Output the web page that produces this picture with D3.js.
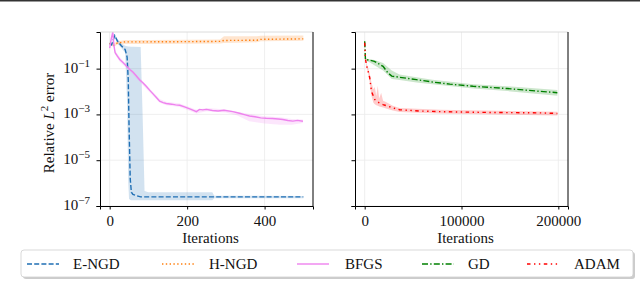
<!DOCTYPE html>
<html>
<head>
<meta charset="utf-8">
<script src="https://cdn.jsdelivr.net/npm/d3@7"></script>
<style>
  html, body { margin: 0; padding: 0; background: #fff; }
  svg { display: block; }
  text { font-family: 'Liberation Serif', 'DejaVu Serif', serif; fill: #111; }
</style>
</head>
<body>
<script>
// ---- data ----

// left panel: E-NGD, H-NGD, BFGS
const engdIter = [0, 5, 13, 20, 30, 40, 45, 48, 50, 53, 56, 60, 70, 80, 500];
const engdMean = [1.26, 1.1, 2.8, 1.6, 1.0, 0.68, 0.32, 0.032, 3.2e-4, 1.6e-6, 4.0e-7, 3.2e-7, 2.8e-7, 2.5e-7, 2.5e-7];
const engdBandIter = [0, 5, 13, 20, 30, 40, 45, 48, 50, 55, 60, 80, 85, 90, 100, 265, 270, 500];
const engdHigh = [1.41, 1.26, 3.16, 2.0, 1.26, 1.0, 0.95, 0.93, 0.93, 0.91, 0.91, 0.87, 1e-3, 4.5e-7, 4.0e-7, 4.0e-7, 2.8e-7, 2.75e-7];
const engdLow = [1.12, 1.0, 2.5, 1.26, 0.79, 0.5, 3.2e-3, 1e-6, 2.0e-7, 1.8e-7, 1.8e-7, 1.8e-7, 1.8e-7, 1.8e-7, 1.8e-7, 1.8e-7, 2.2e-7, 2.2e-7];

const hngdIter = [0, 5, 10, 20, 40, 100, 200, 285, 295, 380, 390, 500];
const hngdMean = [1.26, 1.12, 1.05, 1.32, 1.48, 1.48, 1.51, 1.55, 1.7, 1.74, 1.9, 2.0];
const hngdHigh = [1.41, 1.26, 1.26, 1.58, 1.8, 1.8, 1.82, 1.86, 2.6, 2.6, 2.75, 2.8];
const hngdLow = [1.12, 1.0, 0.89, 1.12, 1.2, 1.2, 1.23, 1.26, 1.32, 1.41, 1.58, 1.66];

const bfgsIter = [0, 4, 8, 11, 14, 20, 26, 35, 45, 52, 60, 68, 77, 85, 95, 103, 112, 120, 129, 138, 146, 160,
  170, 181, 195, 210, 224, 232, 240, 250, 265, 280, 295, 318, 335, 350, 361, 375, 390, 404, 420, 435, 447, 460, 473, 485, 499];
const bfgsMean = [0.79, 2.0, 4.0, 1.0, 0.5, 0.35, 0.25, 0.18, 0.12, 0.091, 0.071, 0.05, 0.033, 0.025, 0.0166, 0.0115,
  0.0079, 0.0056, 0.0038, 0.0033, 0.003, 0.0028, 0.0026, 0.0025, 0.0021, 0.00166, 0.00132, 0.00166, 0.00158, 0.00166,
  0.00148, 0.00141, 0.00151, 0.00132, 0.00112, 0.00095, 0.00085, 0.00079, 0.00071, 0.00068, 0.00066, 0.00063, 0.0006,
  0.00054, 0.00051, 0.00055, 0.0005];
const bfgsBandIter = [0, 8, 14, 26, 52, 77, 103, 129, 146, 181, 224, 250, 300, 330, 360, 400, 440, 470, 499];
const bfgsHigh = [0.89, 4.5, 0.63, 0.32, 0.11, 0.04, 0.014, 0.0047, 0.0036, 0.003, 0.0016, 0.0019, 0.00166, 0.00132,
  0.00105, 0.00083, 0.00076, 0.00063, 0.0006];
const bfgsLow = [0.71, 3.2, 0.4, 0.2, 0.076, 0.027, 0.0093, 0.0032, 0.0025, 0.0021, 0.0011, 0.00138, 0.0012, 0.00089,
  0.0005, 0.0004, 0.00035, 0.00035, 0.00042];

// right panel: GD, ADAM
const gdIter = [0, 800, 5000, 10000, 19000, 24000, 28000, 36000, 53500, 70000, 88000, 112000, 147000, 181000, 199000];
const gdMean = [1.58, 0.25, 0.234, 0.209, 0.126, 0.065, 0.047, 0.042, 0.033, 0.026, 0.021, 0.017, 0.0135, 0.0102, 0.0089];
const gdBandIter = [0, 800, 5000, 10000, 19000, 28000, 36000, 53500, 70000, 112000, 147000, 199000];
const gdHigh = [1.78, 0.28, 0.26, 0.24, 0.178, 0.083, 0.056, 0.042, 0.033, 0.021, 0.017, 0.0117];
const gdLow = [1.41, 0.22, 0.19, 0.141, 0.083, 0.035, 0.032, 0.025, 0.021, 0.0135, 0.0105, 0.0066];

const adamIter = [0, 800, 1700, 3500, 5200, 7000, 10400, 15000, 19000, 29000, 36000, 57000, 78000, 120000, 181000, 199000];
const adamMean = [1.35, 0.28, 0.148, 0.079, 0.04, 0.0102, 0.0045, 0.0032, 0.0027, 0.00195, 0.0016, 0.00141, 0.00132,
  0.00123, 0.00117, 0.0011];
const adamBandIter = [0, 800, 1700, 3500, 5200, 7000, 9000, 10400, 12000, 13500, 15000, 17000, 19000, 22000, 29000,
  36000, 78000, 199000];
const adamHigh = [1.51, 0.32, 0.178, 0.112, 0.063, 0.025, 0.0126, 0.0158, 0.0063, 0.0178, 0.005, 0.0089, 0.004, 0.0035,
  0.0024, 0.0019, 0.00158, 0.00132];
const adamLow = [1.2, 0.25, 0.126, 0.063, 0.025, 0.0063, 0.0032, 0.0028, 0.0025, 0.0024, 0.0022, 0.0021, 0.002, 0.0018,
  0.0015, 0.00126, 0.0011, 0.00089];

const leftTicks = [0, 200, 400];
const rightTicks = [0, 100000, 200000];
const yTicks = [1e-7, 1e-5, 1e-3, 1e-1];
const legendNames = ['E-NGD', 'H-NGD', 'BFGS', 'GD', 'ADAM'];

// ---- styles ----
const serif = "'Liberation Serif', 'DejaVu Serif', serif";
const colors = {
  'E-NGD': '#1f6fb4',
  'H-NGD': '#ff7f0e',
  'BFGS': '#ee82ee',
  'GD': '#008000',
  'ADAM': '#ff0000'
};
const dashes = {
  'E-NGD': '5,2.2',
  'H-NGD': '1.4,2.4',
  'BFGS': null,
  'GD': '6,2.2,1.4,2.2',
  'ADAM': '3.5,3.5,1.4,3.5,1.4,3.5'
};

const width = 640;
const height = 281;
const plotTop = 32;
const plotBottom = 206;

const svg = d3.select('body')
  .append('svg')
  .attr('width', width)
  .attr('height', height)
  .attr('font-family', serif);

svg.append('rect')
  .attr('x', 0).attr('y', 0)
  .attr('width', width).attr('height', 1.5)
  .attr('fill', '#333');

const y = d3.scaleLog()
  .domain([1e-7, Math.pow(10, 0.6)])
  .range([plotBottom, plotTop]);

const xL = d3.scaleLinear().domain([-25, 525]).range([100, 313]);
const xR = d3.scaleLinear().domain([-10000, 210000]).range([355, 568]);

function panel(id, x, ticks, series, showLabels) {
  const [x0, x1] = x.range();
  const g = svg.append('g');

  g.append('clipPath')
    .attr('id', id)
    .append('rect')
    .attr('x', x0).attr('y', plotTop)
    .attr('width', x1 - x0).attr('height', plotBottom - plotTop);

  // grid
  g.selectAll('.vgrid')
    .data(ticks)
    .enter()
    .append('line')
    .attr('x1', (d) => x(d)).attr('x2', (d) => x(d))
    .attr('y1', plotTop).attr('y2', plotBottom)
    .style('stroke', '#ebebeb')
    .style('stroke-width', 0.8);

  g.selectAll('.hgrid')
    .data(yTicks)
    .enter()
    .append('line')
    .attr('x1', x0).attr('x2', x1)
    .attr('y1', (d) => y(d)).attr('y2', (d) => y(d))
    .style('stroke', '#ebebeb')
    .style('stroke-width', 0.8);

  const plot = g.append('g').attr('clip-path', `url(#${id})`);

  series.forEach((s) => {
    const band = d3.zip(s.bandIter, s.low, s.high);
    plot.append('path')
      .datum(band)
      .attr('d', d3.area()
        .x((d) => x(d[0]))
        .y0((d) => y(d[1]))
        .y1((d) => y(d[2])))
      .attr('fill', colors[s.name])
      .attr('fill-opacity', 0.2);
  });

  series.forEach((s) => {
    plot.append('path')
      .datum(d3.zip(s.iter, s.mean))
      .attr('d', d3.line()
        .x((d) => x(d[0]))
        .y((d) => y(d[1])))
      .attr('fill', 'none')
      .attr('stroke', colors[s.name])
      .attr('stroke-width', 1.4)
      .attr('stroke-dasharray', dashes[s.name]);
  });

  // frame
  g.append('line')
    .attr('x1', x0).attr('x2', x1).attr('y1', plotTop).attr('y2', plotTop)
    .style('stroke', '#dcdcdc').style('stroke-width', 1);

  const xAxis = g.append('g')
    .attr('transform', `translate(0,${plotBottom})`)
    .call(d3.axisBottom(x).tickValues(ticks).tickSize(3.5).tickFormat(d3.format('d')))
    .attr('font-family', serif)
    .attr('font-size', 15);
  xAxis.select('.domain').attr('stroke', '#000');
  xAxis.selectAll('text')
    .attr('dy', 0)
    .attr('y', 20)
    .attr('fill', '#111');

  const yAxis = g.append('g')
    .attr('transform', `translate(${x0},0)`)
    .call(d3.axisLeft(y).tickValues(yTicks).tickSize(3.5).tickFormat(''))
    .attr('font-family', serif);
  yAxis.select('.domain').attr('stroke', '#000');

  g.append('line')
    .attr('x1', x1).attr('x2', x1).attr('y1', plotTop).attr('y2', plotBottom)
    .style('stroke', '#000').style('stroke-width', 1);

  if (showLabels) {
    const lab = yAxis.selectAll('.tick')
      .append('text')
      .attr('x', -10)
      .attr('dy', '0.35em')
      .attr('text-anchor', 'end')
      .style('fill', '#111');
    lab.append('tspan')
      .style('font-size', '15px')
      .text('10');
    lab.append('tspan')
      .attr('dy', -6)
      .style('font-size', '11px')
      .text((d) => '\u2212' + Math.round(-Math.log10(d)));
  }

  g.append('text')
    .attr('x', (x0 + x1) / 2 + 4)
    .attr('y', 243)
    .attr('text-anchor', 'middle')
    .style('font-size', '15px')
    .text('Iterations');
}

panel('clipL', xL, leftTicks, [
  { name: 'E-NGD', iter: engdIter, mean: engdMean, bandIter: engdBandIter, low: engdLow, high: engdHigh },
  { name: 'H-NGD', iter: hngdIter, mean: hngdMean, bandIter: hngdIter, low: hngdLow, high: hngdHigh },
  { name: 'BFGS', iter: bfgsIter, mean: bfgsMean, bandIter: bfgsBandIter, low: bfgsLow, high: bfgsHigh }
], true);

panel('clipR', xR, rightTicks, [
  { name: 'GD', iter: gdIter, mean: gdMean, bandIter: gdBandIter, low: gdLow, high: gdHigh },
  { name: 'ADAM', iter: adamIter, mean: adamMean, bandIter: adamBandIter, low: adamLow, high: adamHigh }
], false);

// y label
const ylab = svg.append('text')
  .attr('transform', 'translate(54,123) rotate(-90)')
  .attr('text-anchor', 'middle')
  .style('font-size', '15px');
ylab.append('tspan').text('Relative ');
ylab.append('tspan').style('font-style', 'italic').text('L');
ylab.append('tspan').attr('dy', -6).style('font-size', '11px').text('2');
ylab.append('tspan').attr('dy', 6).text(' error');

// legend
const legend = svg.append('g');
legend.append('rect')
  .attr('x', 23).attr('y', 252)
  .attr('width', 612).attr('height', 27)
  .attr('rx', 3)
  .attr('fill', '#999').attr('fill-opacity', 0.5);
legend.append('rect')
  .attr('x', 21).attr('y', 250)
  .attr('width', 612).attr('height', 27)
  .attr('rx', 3)
  .attr('fill', '#fff')
  .attr('stroke', '#cfcfcf').attr('stroke-width', 0.8);

const legendPos = [[27, 73], [162, 209], [297, 345], [422, 468], [527, 574]];
const item = legend.selectAll('.item')
  .data(legendNames)
  .enter()
  .append('g');
item.append('line')
  .attr('x1', (d, i) => legendPos[i][0])
  .attr('x2', (d, i) => legendPos[i][0] + 32)
  .attr('y1', 264).attr('y2', 264)
  .attr('stroke', (d) => colors[d])
  .attr('stroke-width', 1.4)
  .attr('stroke-dasharray', (d) => dashes[d]);
item.append('text')
  .attr('x', (d, i) => legendPos[i][1])
  .attr('y', 269)
  .style('font-size', '15px')
  .text((d) => d);
</script>
</body>
</html>
